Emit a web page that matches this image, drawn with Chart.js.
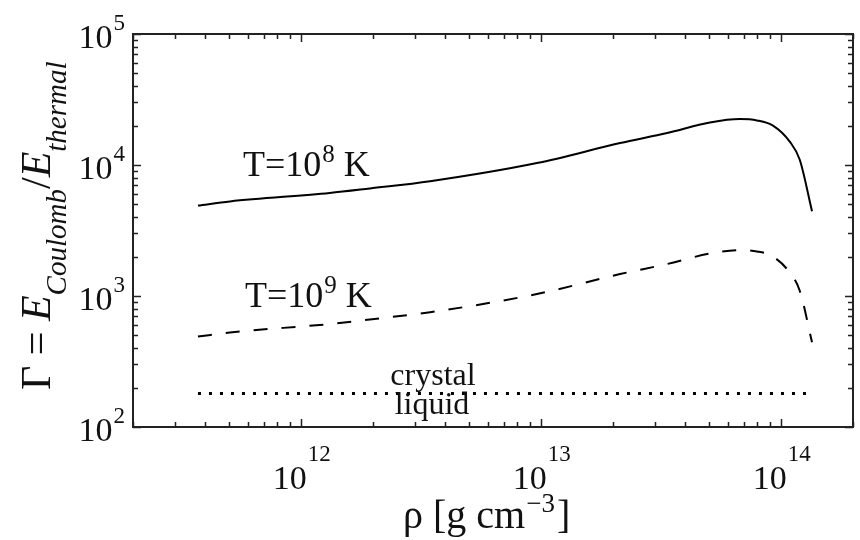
<!DOCTYPE html>
<html>
<head>
<meta charset="utf-8">
<script src="https://cdn.jsdelivr.net/npm/chart.js@4.4.1/dist/chart.umd.min.js"></script>
<style>
  html, body { margin: 0; padding: 0; background: #fff; }
</style>
</head>
<body>
<canvas id="gammaChart" width="860" height="540"></canvas>
<script>
// density samples, g cm^-3
const density = [3.73e11, 5.07e11, 1.32e12, 1.94e12, 3.46e12, 9.64e12, 2.14e13,
                 3.36e13, 5.07e13, 6.76e13, 7.96e13, 9.28e13, 1.09e14, 1.20e14, 1.35e14];
// coupling parameter at T = 1e8 K and T = 1e9 K
const gammaT8 = [4900, 5270, 6110, 6620, 7520, 10350, 14700,
                 17550, 21100, 22400, 21900, 20000, 15100, 10960, 4430];
const gammaT9 = [490, 527, 611, 662, 752, 1035, 1470,
                 1755, 2110, 2240, 2190, 2000, 1510, 1096, 443];
// crystallisation threshold
const meltRho = [3.73e11, 1.35e14];
const meltGamma = [180, 180];
// axis decades that get a label
const xTickExps = [12, 13, 14];
const yTickExps = [2, 3, 4, 5];

const SERIF = '"Liberation Serif", "Times New Roman", serif';
const INK = '#111';

function pts(xs, ys) {
  return xs.map((x, i) => ({ x: x, y: ys[i] }));
}

// "10" with a raised exponent; ax is the anchor x, align 'right' or 'center'
function drawPow(ctx, exp, ax, base, supBase, size, supSize, align) {
  ctx.font = size + 'px ' + SERIF;
  const w10 = ctx.measureText('10').width;
  ctx.font = supSize + 'px ' + SERIF;
  const wSup = ctx.measureText(String(exp)).width;
  const total = w10 + 1 + wSup;
  let x0 = align === 'right' ? ax - total : ax - total / 2;
  ctx.textAlign = 'left';
  ctx.textBaseline = 'alphabetic';
  ctx.font = size + 'px ' + SERIF;
  ctx.fillText('10', x0, base);
  ctx.font = supSize + 'px ' + SERIF;
  ctx.fillText(String(exp), x0 + w10 + 1, supBase);
}

// draws a run of [text, font, dy] pieces left to right, returns end x
function drawRun(ctx, pieces, x, y) {
  ctx.textAlign = 'left';
  ctx.textBaseline = 'alphabetic';
  pieces.forEach(p => {
    ctx.font = p[1];
    ctx.fillText(p[0], x, y + (p[2] || 0));
    x += ctx.measureText(p[0]).width;
  });
  return x;
}

const frameAndLabels = {
  id: 'frameAndLabels',
  afterDraw(chart) {
    const ctx = chart.ctx;
    const a = chart.chartArea;
    const xs = chart.scales.x, ys = chart.scales.y;
    ctx.save();
    ctx.fillStyle = INK;
    ctx.strokeStyle = '#222';

    // inward ticks on all four sides
    ctx.lineWidth = 1.5;
    ctx.beginPath();
    for (let e = 11; e <= 14; e++) {
      for (let m = 1; m <= 9; m++) {
        const v = m * Math.pow(10, e);
        if (v < xs.min * 0.999 || v > xs.max * 1.001) continue;
        const px = Math.round(xs.getPixelForValue(v)) + 0.5;
        const len = m === 1 ? 8 : 5;
        ctx.moveTo(px, a.bottom); ctx.lineTo(px, a.bottom - len);
        ctx.moveTo(px, a.top); ctx.lineTo(px, a.top + len);
      }
    }
    for (let e = 2; e <= 5; e++) {
      for (let m = 1; m <= 9; m++) {
        const v = m * Math.pow(10, e);
        if (v < ys.min * 0.999 || v > ys.max * 1.001) continue;
        const py = Math.round(ys.getPixelForValue(v)) + 0.5;
        const len = m === 1 ? 8 : 5;
        ctx.moveTo(a.left, py); ctx.lineTo(a.left + len, py);
        ctx.moveTo(a.right, py); ctx.lineTo(a.right - len, py);
      }
    }
    ctx.stroke();

    // frame
    ctx.lineWidth = 2;
    ctx.strokeRect(a.left, a.top, a.right - a.left, a.bottom - a.top);

    // tick labels
    xTickExps.forEach(e => {
      const px = xs.getPixelForValue(Math.pow(10, e));
      drawPow(ctx, e, px + 1, 489, 461, 34, 23, 'center');
    });
    yTickExps.forEach(e => {
      const py = ys.getPixelForValue(Math.pow(10, e));
      drawPow(ctx, e, 125, py + 13.5, py - 4, 34, 23, 'right');
    });

    // x title
    let x = 403;
    x = drawRun(ctx, [['\u03c1 [g cm', '40px ' + SERIF]], x, 528);
    x = drawRun(ctx, [['\u22123', '27px ' + SERIF]], x + 1, 512);
    drawRun(ctx, [[']', '40px ' + SERIF]], x + 2, 528);

    // y title, rotated to read bottom to top
    ctx.save();
    ctx.translate(50, 390);
    ctx.rotate(-Math.PI / 2);
    const big = '42px ' + SERIF, bigIt = 'italic 42px ' + SERIF, sub = 'italic 29px ' + SERIF;
    drawRun(ctx, [
      ['\u0393 = ', big],
      ['E', bigIt],
      ['Coulomb', sub, 16],
      ['/', big],
      ['E', bigIt],
      ['thermal', sub, 16]
    ], 0, 0);
    ctx.restore();

    // curve labels
    x = drawRun(ctx, [['T=10', '36px ' + SERIF]], 243, 176);
    x = drawRun(ctx, [['8', '25px ' + SERIF]], x + 1, 162);
    drawRun(ctx, [[' K', '36px ' + SERIF]], x, 176);
    x = drawRun(ctx, [['T=10', '36px ' + SERIF]], 245, 307);
    x = drawRun(ctx, [['9', '25px ' + SERIF]], x + 1, 293);
    drawRun(ctx, [[' K', '36px ' + SERIF]], x, 307);

    // phase labels around the threshold line
    ctx.font = '32px ' + SERIF;
    ctx.textAlign = 'center';
    ctx.fillText('crystal', 433, 385);
    ctx.fillText('liquid', 432, 414);
    ctx.restore();
  }
};

new Chart(document.getElementById('gammaChart'), {
  type: 'scatter',
  data: {
    datasets: [
      { label: 'T=1e8 K', data: pts(density, gammaT8), showLine: true,
        borderColor: '#000', borderWidth: 2, cubicInterpolationMode: 'monotone' },
      { label: 'T=1e9 K', data: pts(density, gammaT9), showLine: true,
        borderColor: '#000', borderWidth: 2, borderDash: [14, 14], cubicInterpolationMode: 'monotone' },
      { label: 'melting', data: pts(meltRho, meltGamma), showLine: true,
        borderColor: '#000', borderWidth: 3, borderDash: [3, 8] }
    ]
  },
  options: {
    responsive: false,
    animation: false,
    layout: { padding: { left: 133, right: 7, top: 34, bottom: 113 } },
    elements: { point: { radius: 0 } },
    plugins: { legend: { display: false }, tooltip: { enabled: false } },
    scales: {
      x: { type: 'logarithmic', min: 2e11, max: 2e14, display: false },
      y: { type: 'logarithmic', min: 100, max: 1e5, display: false }
    }
  },
  plugins: [frameAndLabels]
});
</script>
</body>
</html>
